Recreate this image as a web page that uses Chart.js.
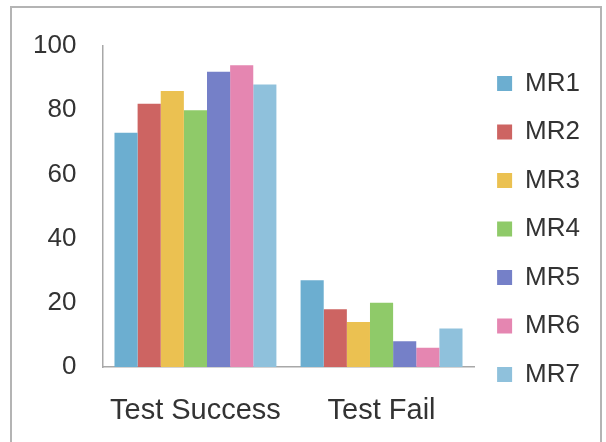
<!DOCTYPE html>
<html>
<head>
<meta charset="utf-8">
<script src="https://cdn.jsdelivr.net/npm/chart.js@4"></script>
<style>
  html, body { margin: 0; padding: 0; background: #fff; }
  #wrap { position: relative; width: 606px; height: 442px; overflow: hidden; }
  #frame { position: absolute; left: 10px; top: 6px; width: 592px; height: 460px;
           border: 2px solid #b4b4b4; box-sizing: border-box; }
  canvas { position: absolute; left: 0; top: 0; }
</style>
</head>
<body>
<div id="wrap">
  <div id="frame"></div>
  <canvas id="chart" width="606" height="456"></canvas>
</div>
<script>
// Test outcome percentages per MR build
const categories = ['Test Success', 'Test Fail'];
const seriesNames = ['MR1', 'MR2', 'MR3', 'MR4', 'MR5', 'MR6', 'MR7'];
const successValues = [73, 82, 86, 80, 92, 94, 88];
const failValues = [27, 18, 14, 20, 8, 6, 12];
const yTicks = [0, 20, 40, 60, 80, 100];
const seriesColors = ['#6caed0', '#cd6462', '#ebc151', '#8fca69', '#7580c8', '#e586b1', '#8fc1dc'];

const datasets = seriesNames.map((name, i) => ({
  label: name,
  data: [successValues[i], failValues[i]],
  backgroundColor: seriesColors[i],
  borderWidth: 0,
  barPercentage: 1.0,
  categoryPercentage: 0.87
}));

const family = '"Liberation Sans", Arial, sans-serif';
const font = { family, size: 26 };

new Chart(document.getElementById('chart'), {
  type: 'bar',
  data: { labels: categories, datasets },
  options: {
    responsive: false,
    animation: false,
    devicePixelRatio: 1,
    layout: { padding: { left: 7, right: 16, top: 46, bottom: 1 } },
    plugins: {
      legend: {
        position: 'right',
        align: 'start',
        // blank spacer title nudges the legend column down slightly
        title: { display: true, text: ' ', font: { size: 2, lineHeight: 1 }, padding: 0 },
        labels: {
          boxWidth: 15,
          boxHeight: 15,
          padding: 22.5,
          color: '#333',
          font
        }
      },
      tooltip: { enabled: false }
    },
    scales: {
      x: {
        grid: { display: false, drawTicks: false },
        border: { display: true, color: '#a8a8a8', width: 1.5 },
        ticks: { color: '#333', font: { family, size: 29, lineHeight: 18 / 29 }, padding: 35 }
      },
      y: {
        min: 0,
        max: 100,
        afterBuildTicks: axis => { axis.ticks = yTicks.map(v => ({ value: v })); },
        grid: { display: false, drawTicks: false },
        border: { display: true, color: '#a8a8a8', width: 1.5 },
        ticks: { color: '#333', font, padding: 26 }
      }
    }
  }
});
</script>
</body>
</html>
